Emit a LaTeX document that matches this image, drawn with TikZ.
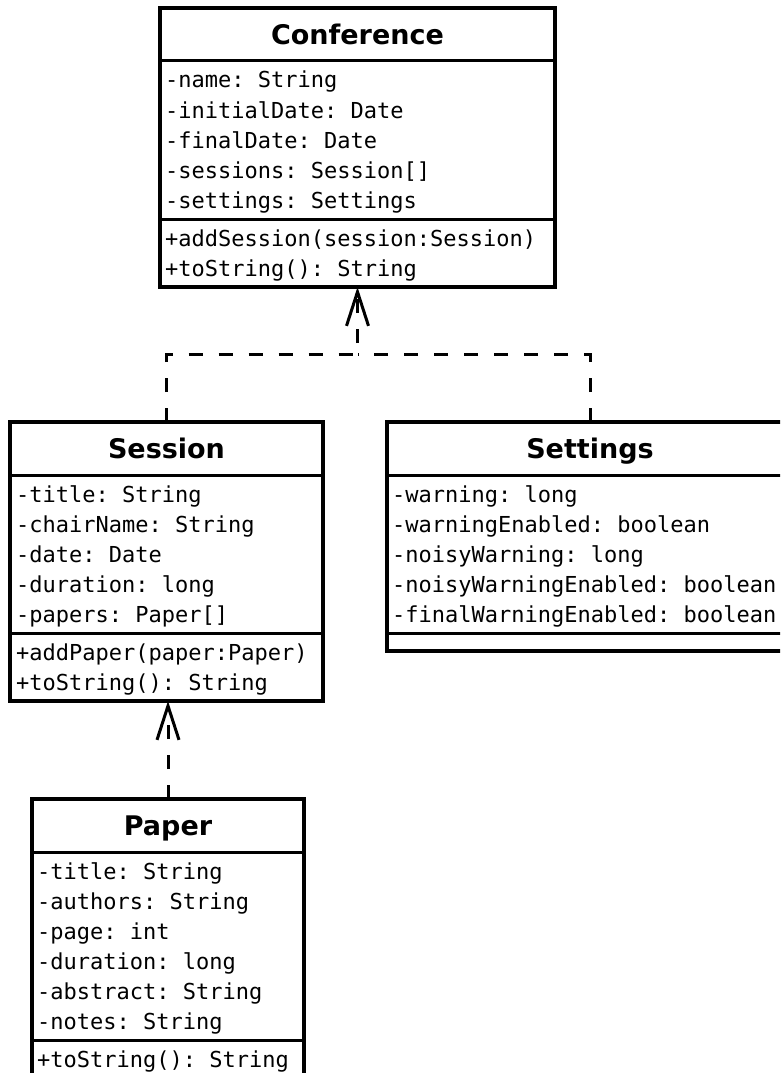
\documentclass[tikz,border=0pt]{standalone}
\usepackage{fontspec}
\setmonofont{DejaVu Sans Mono}
\newfontfamily\titlefont{DejaVu Sans}
\usetikzlibrary{arrows.meta}

\tikzset{
  classbox/.style={draw, line width=3.5pt, fill=white, inner sep=0pt, outer sep=0pt, anchor=north west},
  sepline/.style={line width=3pt},
  classtitle/.style={font=\titlefont\bfseries\fontsize{27}{27}\selectfont, anchor=base, inner sep=0pt},
  member/.style={font=\ttfamily\fontsize{22}{22}\selectfont, anchor=base west, inner sep=0pt},
  dep/.style={line width=3pt, dash pattern=on 14pt off 16pt},
  deptip/.style={-{Straight Barb[length=34pt,width=22pt]}},
}

\begin{document}
\begin{tikzpicture}[x=1pt,y=-1pt]
  \useasboundingbox (0,0) rectangle (780,1073);
  \clip (0,0) rectangle (780,1073);
  \fill[white] (0,0) rectangle (780,1073);

  % ---- Conference ----
  \node[classbox, minimum width=395pt, minimum height=279pt] (conf) at (160,8) {};
  \draw[sepline] (160,61) -- (555,61);
  \draw[sepline] (160,219) -- (555,219);
  \node[classtitle] (confT) at (357.5,44.5) {Conference};
  \node[member] (confA1) at (165,88)  {-name: String};
  \node[member] (confA2) at (165,118) {-initialDate: Date};
  \node[member] (confA3) at (165,148) {-finalDate: Date};
  \node[member] (confA4) at (165,178) {-sessions: Session[]};
  \node[member] (confA5) at (165,208) {-settings: Settings};
  \node[member] (confM1) at (165,246) {+addSession(session:Session)};
  \node[member] (confM2) at (165,276) {+toString(): String};

  % ---- Session ----
  \node[classbox, minimum width=313pt, minimum height=279pt] (sess) at (10,422) {};
  \draw[sepline] (10,475) -- (323,475);
  \draw[sepline] (10,633) -- (323,633);
  \node[classtitle] (sessT) at (166.5,458.5) {Session};
  \node[member] (sessA1) at (16,502) {-title: String};
  \node[member] (sessA2) at (16,532) {-chairName: String};
  \node[member] (sessA3) at (16,562) {-date: Date};
  \node[member] (sessA4) at (16,592) {-duration: long};
  \node[member] (sessA5) at (16,622) {-papers: Paper[]};
  \node[member] (sessM1) at (16,660) {+addPaper(paper:Paper)};
  \node[member] (sessM2) at (16,690) {+toString(): String};

  % ---- Settings ----
  \node[classbox, minimum width=406pt, minimum height=229pt] (sett) at (387,422) {};
  \draw[sepline] (387,475) -- (793,475);
  \draw[sepline] (387,633) -- (793,633);
  \node[classtitle] (settT) at (590,458.5) {Settings};
  \node[member] (settA1) at (392,502) {-warning: long};
  \node[member] (settA2) at (392,532) {-warningEnabled: boolean};
  \node[member] (settA3) at (392,562) {-noisyWarning: long};
  \node[member] (settA4) at (392,592) {-noisyWarningEnabled: boolean};
  \node[member] (settA5) at (392,622) {-finalWarningEnabled: boolean};

  % ---- Paper ----
  \node[classbox, minimum width=272pt, minimum height=279pt] (paper) at (32,799) {};
  \draw[sepline] (32,852) -- (304,852);
  \draw[sepline] (32,1040) -- (304,1040);
  \node[classtitle] (paperT) at (168,835.5) {Paper};
  \node[member] (paperA1) at (37,879)  {-title: String};
  \node[member] (paperA2) at (37,909)  {-authors: String};
  \node[member] (paperA3) at (37,939)  {-page: int};
  \node[member] (paperA4) at (37,969)  {-duration: long};
  \node[member] (paperA5) at (37,999)  {-abstract: String};
  \node[member] (paperA6) at (37,1029) {-notes: String};
  \node[member] (paperM1) at (37,1067) {+toString(): String};

  % ---- dependencies ----
  \coordinate (join) at (357.5,354);
  \draw[dep, deptip] (sess.north) |- (join) -- (conf.south);
  \draw[dep] (sett.north) |- (join);
  \draw[dep, deptip] (paper.north) -- (paper.north |- sess.south);
\end{tikzpicture}
\end{document}
